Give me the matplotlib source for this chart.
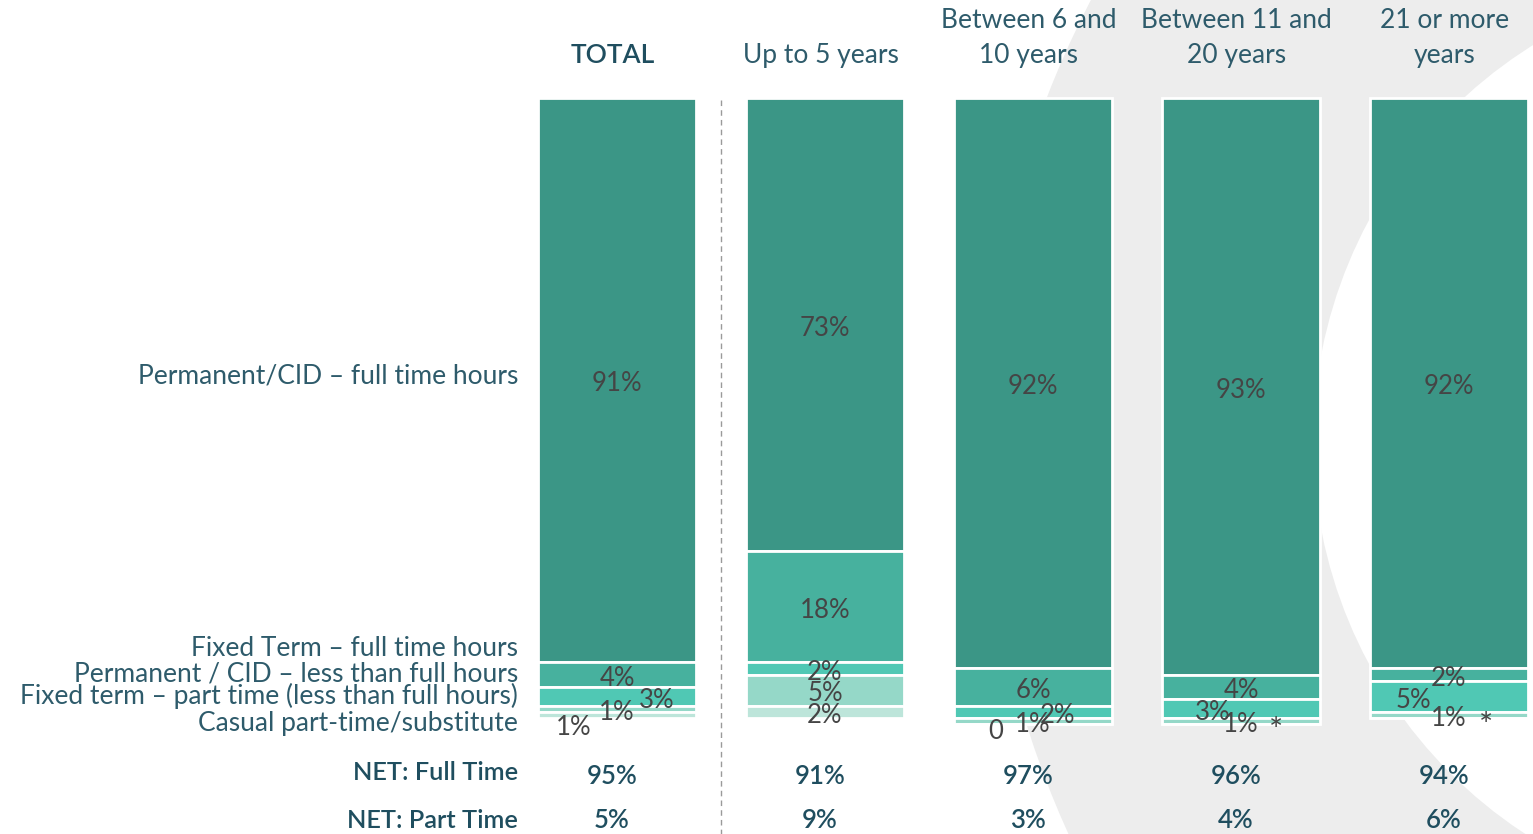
import matplotlib.pyplot as plt
from matplotlib.patches import Circle
import numpy as np

plt.rcParams['font.family'] = ['Lato', 'DejaVu Sans']

groups = ["TOTAL", "Up to 5 years", "Between 6 and\n10 years",
          "Between 11 and\n20 years", "21 or more\nyears"]
series = ["Permanent/CID \u2013 full time hours",
          "Fixed Term \u2013 full time hours",
          "Permanent / CID \u2013 less than full hours",
          "Fixed term \u2013 part time (less than full hours)",
          "Casual part-time/substitute"]

perm_ft = [91, 73, 92, 93, 92]
fixed_ft = [4, 18, 6, 4, 2]
perm_less = [3, 2, 2, 3, 5]
fixed_pt = [1, 5, 1, 1, 1]
casual = [1, 2, 0, 0, 0]

seg_labels = [["91%", "4%", "3%", "1%", "1%"],
              ["73%", "18%", "2%", "5%", "2%"],
              ["92%", "6%", "2%", "1%", "0"],
              ["93%", "4%", "3%", "1%", "*"],
              ["92%", "2%", "5%", "1%", "*"]]

net_full = ["95%", "91%", "97%", "96%", "94%"]
net_part = ["5%", "9%", "3%", "4%", "6%"]

colors = ["#3b9686", "#47b19e", "#50c8b4", "#95d8c8", "#bde5da"]
text_col = "#2e5b6b"
dark_col = "#1f4e5f"
lab_col = "#454545"

# label nudges (dx in bar spacings, dy in %) for the crowded small segments
nudge = {(0, 2): (0.19, 0), (0, 4): (-0.21, 1.5),
         (2, 2): (0.12, 0), (2, 4): (-0.18, 0.5),
         (3, 2): (-0.135, 0), (3, 4): (0.17, 0.6),
         (4, 2): (-0.17, 0), (4, 4): (0.18, 0.9)}

W, H = 1533, 834
fig = plt.figure(figsize=(W / 100, H / 100), dpi=100)

# decorative background ring
bg = fig.add_axes([0, 0, 1, 1], zorder=0)
bg.set_xlim(0, W)
bg.set_ylim(H, 0)
bg.axis("off")
bg.add_patch(Circle((1934, 440), 951, color="#ededed", lw=0))
bg.add_patch(Circle((1781, 442), 468, color="white", lw=0))

# main axes: 0% at y=98px, 100% at y=718px
y0, y1 = 98, 718
left = 513
ax = fig.add_axes([left / W, (H - y1) / H, (W - left) / W, (y1 - y0) / H], zorder=1)
ax.patch.set_alpha(0)
ax.set_xlim(-0.5, -0.5 + (W - left) / 208)
ax.set_ylim(100, 0)
ax.axis("off")

data = np.array([perm_ft, fixed_ft, perm_less, fixed_pt, casual])
x = np.arange(len(groups))
bottom = np.zeros(len(groups))
for i, vals in enumerate(data):
    ax.bar(x, vals, bottom=bottom, width=0.76, color=colors[i],
           edgecolor="white", linewidth=2, clip_on=False)
    for j in range(len(groups)):
        dx, dy = nudge.get((j, i), (0, 0))
        lab = seg_labels[j][i]
        ax.text(x[j] + dx, bottom[j] + vals[j] / 2 + dy + 0.6, lab,
                ha="center", va="center", color=lab_col,
                fontsize=24 if lab == "*" else 18.5,
                zorder=5, clip_on=False)
    bottom += vals

def py(p):
    return (p - y0) / (y1 - y0) * 100

# headers
for j, g in enumerate(groups):
    ax.text(x[j] - 0.02, py(68), g, ha="center", va="bottom", fontsize=19,
            color=dark_col if j == 0 else text_col, linespacing=1.5,
            fontweight="semibold" if j == 0 else "normal", clip_on=False)

# series labels on the left
label_y = [376, 648, 674, 696, 724]
for s, yy in zip(series, label_y):
    ax.text(-0.5 + 5 / 208, py(yy), s, ha="right", va="center", fontsize=19,
            color=text_col, clip_on=False)

# net rows
ax.text(-0.5 + 5 / 208, py(772), "NET: Full Time", ha="right", va="center",
        fontsize=18.3, color=dark_col, fontweight="semibold", clip_on=False)
ax.text(-0.5 + 5 / 208, py(820), "NET: Part Time", ha="right", va="center",
        fontsize=18.3, color=dark_col, fontweight="semibold", clip_on=False)
for j in range(len(groups)):
    ax.text(x[j] - 0.025, py(776), net_full[j], ha="center", va="center",
            fontsize=18.5, color=dark_col, fontweight="semibold", clip_on=False)
    ax.text(x[j] - 0.025, py(821), net_part[j], ha="center", va="center",
            fontsize=18.5, color=dark_col, fontweight="semibold", clip_on=False)

# dashed divider after TOTAL
ax.plot([0.5, 0.5], [py(100), py(834)], ls=(0, (4, 3)), color="#9a9a9a",
        lw=1, clip_on=False)

fig.savefig("out.png", dpi=100)
